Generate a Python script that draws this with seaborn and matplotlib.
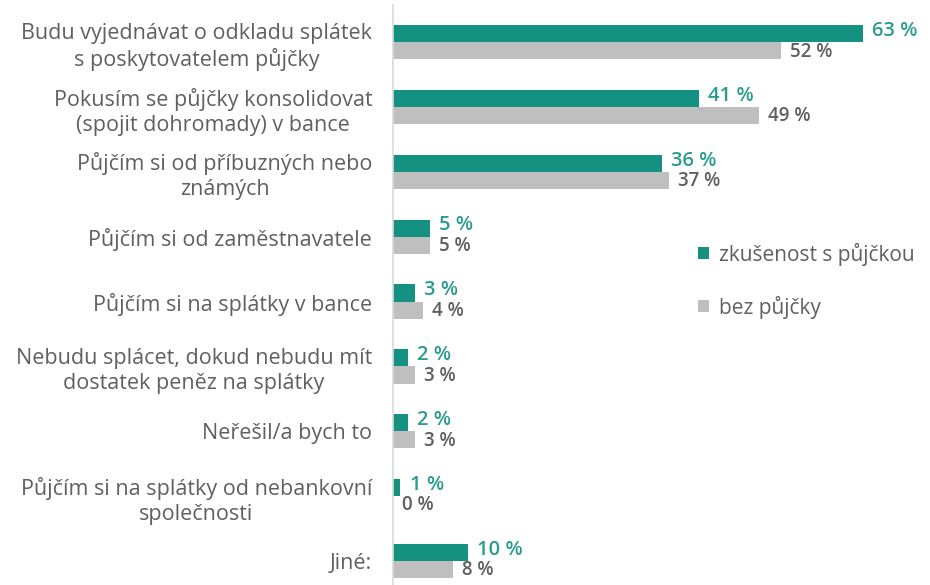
"""Grouped horizontal bars: what respondents would do when unable to repay."""

import matplotlib.pyplot as plt
from matplotlib.patches import Patch
import pandas as pd
import seaborn as sns

categories = [
    "Budu vyjednávat o odkladu splátek\ns poskytovatelem půjčky",
    "Pokusím se půjčky konsolidovat\n(spojit dohromady) v bance",
    "Půjčím si od příbuzných nebo\nznámých",
    "Půjčím si od zaměstnavatele",
    "Půjčím si na splátky v bance",
    "Nebudu splácet, dokud nebudu mít\ndostatek peněz na splátky",
    "Neřešil/a bych to",
    "Půjčím si na splátky od nebankovní\nspolečnosti",
    "Jiné:",
]
series_names = ["zkušenost s půjčkou", "bez půjčky"]
with_loan = [63, 41, 36, 5, 3, 2, 2, 1, 10]
without_loan = [52, 49, 37, 5, 4, 3, 3, 0, 8]

TEAL = "#149180"
TEAL_TEXT = "#2a9d8c"
GREY = "#bfbfbf"
GREY_TEXT = "#5f5f5f"
TEXT = "#606060"

df = pd.DataFrame(
    {
        "category": categories * 2,
        "series": [series_names[0]] * len(categories) + [series_names[1]] * len(categories),
        "value": with_loan + without_loan,
    }
)

sns.set_theme(style="white")
plt.rcParams["font.family"] = ["Open Sans", "DejaVu Sans"]

fig = plt.figure(figsize=(9.3, 5.85), dpi=100)
ax = fig.add_axes([0.4226, 0.0, 0.55, 0.991])

sns.barplot(
    data=df,
    y="category",
    x="value",
    hue="series",
    hue_order=series_names,
    order=categories,
    palette={series_names[0]: TEAL, series_names[1]: GREY},
    orient="h",
    width=0.53,
    saturation=1.0,
    errorbar=None,
    legend=False,
    linewidth=0,
    ax=ax,
)

ax.set_xlim(0, 68.5)
ax.set_ylim(8.37, -0.57)
ax.set_xlabel("")
ax.set_ylabel("")
ax.set_xticks([])
for side in ("top", "right", "bottom"):
    ax.spines[side].set_visible(False)
ax.spines["left"].set_color("#d9d9d9")
ax.spines["left"].set_linewidth(1.2)
ax.tick_params(axis="y", length=0, pad=15, labelsize=15.5, labelcolor=TEXT)
for lbl in ax.get_yticklabels():
    lbl.set_horizontalalignment("right")
    lbl.set_multialignment("center")
    lbl.set_linespacing(1.25)

label_styles = [
    (TEAL_TEXT, 2, 14.5),
    (GREY_TEXT, -0.5, 13.5),
]
for container, (color, dy, size) in zip(ax.containers, label_styles):
    for bar in container:
        w = bar.get_width()
        ax.annotate(
            f"{int(round(w))} %",
            (w, bar.get_y() + bar.get_height() / 2),
            xytext=(6.5, dy),
            textcoords="offset points",
            ha="left",
            va="center",
            fontsize=size,
            fontweight="semibold",
            color=color,
        )

handles = [
    Patch(facecolor=TEAL, edgecolor="none", label=series_names[0]),
    Patch(facecolor=GREY, edgecolor="none", label=series_names[1]),
]
ax.legend(
    handles=handles,
    loc="center left",
    bbox_to_anchor=(0.56, 0.525),
    frameon=False,
    fontsize=15,
    labelcolor=TEXT,
    handlelength=0.5,
    handleheight=0.5,
    handletextpad=0.5,
    labelspacing=1.45,
)

fig.savefig("out.png", dpi=100)
